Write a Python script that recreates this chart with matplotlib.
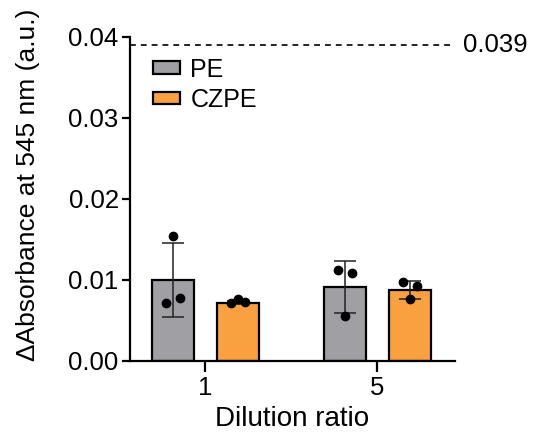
import numpy as np
import matplotlib
matplotlib.use("Agg")
import matplotlib.pyplot as plt
from matplotlib.ticker import FormatStrFormatter

plt.rcParams["font.family"] = ["Liberation Sans", "DejaVu Sans"]

# data
groups = ["1", "5"]
series = ["PE", "CZPE"]
pe_mean = [0.0100, 0.0091]
pe_sd = [0.0046, 0.0032]
czpe_mean = [0.0072, 0.0088]
czpe_sd = [0.0002, 0.0011]
# replicate points (left, middle, right)
pe_points = [[0.0071, 0.0154, 0.0078], [0.0112, 0.0055, 0.0108]]
czpe_points = [[0.0071, 0.0076, 0.0073], [0.0097, 0.0077, 0.0093]]
threshold = 0.039

colors = {"PE": "#A0A0A4", "CZPE": "#F9A040"}

fig = plt.figure(figsize=(5.5, 4.44), dpi=100)
ax = fig.add_axes([0.236, 0.187, 0.591, 0.730])

x = np.arange(len(groups))
width = 0.245
offset = 0.19
jitter = np.array([-0.04, 0.0, 0.04])

for name, means, sds, pts, sign in [("PE", pe_mean, pe_sd, pe_points, -1),
                                     ("CZPE", czpe_mean, czpe_sd, czpe_points, 1)]:
    pos = x + sign * offset
    ax.bar(pos, means, width, color=colors[name], edgecolor="black",
           linewidth=1.6, label=name, zorder=1)
    ax.errorbar(pos, means, yerr=sds, fmt="none", ecolor="#222222",
                elinewidth=1.1, capsize=8, capthick=1.1, zorder=2)
    for p, vals in zip(pos, pts):
        ax.plot(p + jitter, vals, "o", color="black", markersize=6, zorder=3)

ax.axhline(threshold, color="black", linestyle=(0, (3.5, 3)), linewidth=1.2,
           clip_on=False, zorder=0)
ax.text(1.025, threshold, "0.039", transform=ax.get_yaxis_transform(),
        fontsize=18.5, va="center", ha="left")

ax.set_xlim(-0.44, 1.45)
ax.set_ylim(0, 0.04)
ax.set_yticks([0.0, 0.01, 0.02, 0.03, 0.04])
ax.yaxis.set_major_formatter(FormatStrFormatter("%.2f"))
ax.set_xticks(x)
ax.set_xticklabels(groups)

for s in ["top", "right"]:
    ax.spines[s].set_visible(False)
for s in ["left", "bottom"]:
    ax.spines[s].set_linewidth(1.6)

ax.tick_params(axis="y", length=6, width=1.6, labelsize=18.5, pad=2)
ax.tick_params(axis="x", length=8, width=1.6, labelsize=18.5, pad=3)

ax.set_xlabel("Dilution ratio", fontsize=20, labelpad=4)
ax.set_ylabel("\u0394Absorbance at 545 nm (a.u.)", fontsize=19)
ax.yaxis.set_label_coords(-0.275, 0.543)

ax.legend(loc="upper left", bbox_to_anchor=(0.04, 0.967), frameon=False,
          fontsize=18, handlelength=1.1, handleheight=0.38, handletextpad=0.4,
          labelspacing=0.25, borderaxespad=0)

fig.savefig("out.png", dpi=100)
